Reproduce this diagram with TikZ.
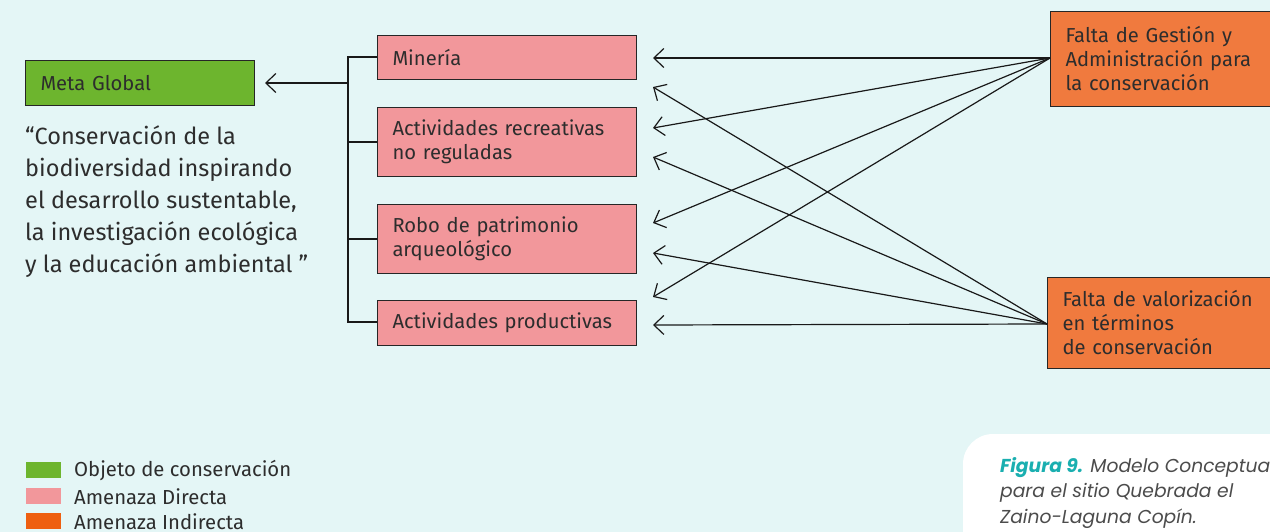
\documentclass[tikz,border=0pt]{standalone}
\usepackage{fontspec}
\setmainfont{Fira Sans}
\newfontfamily\capfont{Poppins}
\usetikzlibrary{arrows.meta}
\definecolor{bgc}{RGB}{228,246,246}
\definecolor{gfill}{RGB}{109,181,46}
\definecolor{pfill}{RGB}{242,151,155}
\definecolor{ofill}{RGB}{240,122,62}
\definecolor{olegend}{RGB}{238,95,16}
\definecolor{txt}{RGB}{45,45,45}
\definecolor{teal9}{RGB}{26,175,176}
\tikzset{
  boxbase/.style={draw=black!85, line width=1pt, anchor=north west, align=left, inner xsep=15pt, inner ysep=0pt, text=txt, font=\fontsize{20.2}{24}\selectfont},
  gbox/.style={boxbase, fill=gfill},
  pbox/.style={boxbase, fill=pfill},
  obox/.style={boxbase, fill=ofill},
  conn/.style={line width=1.2pt, black!90},
  arr/.style={conn, -{Straight Barb[length=10pt,width=19pt,line width=1.2pt]}},
  legsq/.style={anchor=north west, minimum width=35pt, minimum height=16pt, inner sep=0pt},
  legtxt/.style={anchor=west, text=txt, font=\fontsize{20.3}{22}\selectfont, inner sep=0pt},
}
\begin{document}
\begin{tikzpicture}[x=1pt,y=-1pt]
\useasboundingbox (0,0) rectangle (1270,532);
\clip (0,0) rectangle (1270,532);
\fill[bgc] (0,0) rectangle (1270,532);
\fill[white, rounded corners=30pt] (963,434) rectangle (1320,600);

% goal
\node[gbox, minimum width=229pt, minimum height=45pt, text width=199pt] (meta) at (25,60) {Meta Global};
\node[anchor=north west, align=left, inner sep=0pt, text=txt, font=\fontsize{23.5}{32}\selectfont] (quote) at (25,125)
{“Conservación de la\\biodiversidad inspirando\\el desarrollo sustentable,\\la investigación ecológica\\y la educación ambiental ”};

% direct threats
\node[pbox, minimum width=259pt, minimum height=44pt, text width=229pt] (min) at (377,35) {Minería};
\node[pbox, minimum width=259pt, minimum height=69pt, text width=229pt] (rec) at (377,107) {Actividades recreativas\\no reguladas};
\node[pbox, minimum width=259pt, minimum height=69pt, text width=229pt] (rob) at (377,204) {Robo de patrimonio\\arqueológico};
\node[pbox, minimum width=259pt, minimum height=45pt, text width=229pt] (pro) at (377,300) {Actividades productivas};

% indirect threats
\node[obox, minimum width=260pt, minimum height=95pt, text width=230pt] (ges) at (1050,11) {Falta de Gestión y\\Administración para\\la conservación};
\node[obox, minimum width=260pt, minimum height=91pt, text width=230pt, inner xsep=13pt] (val) at (1047,277) {Falta de valorización\\en términos\\de conservación};

% bracket
\coordinate (bt) at (348,57);
\coordinate (bb) at (348,322);
\coordinate (bm) at (348,83);
\draw[conn] (min.west |- bt) -- (bt) -- (bb) -- (pro.west |- bb);
\draw[conn] (348,142) -- (rec.west |- 0,142);
\draw[conn] (348,239) -- (rob.west |- 0,239);
\draw[arr] (bm) -- (265,83) coordinate (mt);

% arrow tips
\coordinate (t1) at (653,58);
\coordinate (t2) at (653,87);
\coordinate (t3) at (653,128);
\coordinate (t4) at (653,157);
\coordinate (t5) at (653,223);
\coordinate (t6) at (653,253);
\coordinate (t7) at (653,297);
\coordinate (t8) at (653,325);
\coordinate (gs) at (1050,58);
\coordinate (vs) at (1047,324);
\draw[arr] (gs) -- (t1);
\draw[arr] (gs) -- (t3);
\draw[arr] (gs) -- (t5);
\draw[arr] (gs) -- (t7);
\draw[arr] (vs) -- (t2);
\draw[arr] (vs) -- (t4);
\draw[arr] (vs) -- (t6);
\draw[arr] (vs) -- (t8);

% legend
\node[legsq, fill=gfill] (l1) at (26,462) {};
\node[legsq, fill=pfill] (l2) at (26,488) {};
\node[legsq, fill=olegend] (l3) at (26,513) {};
\node[legtxt] at (74,471) {Objeto de conservación};
\node[legtxt] at (74,497) {Amenaza Directa};
\node[legtxt] at (74,522) {Amenaza Indirecta};

% caption
\node[anchor=north west, align=left, inner sep=0pt, text=txt!85, font=\capfont\itshape\fontsize{18.7}{25.5}\selectfont] (cap) at (1000,457)
{{\bfseries\color{teal9}Figura 9.} Modelo Conceptual\\para el sitio Quebrada el\\Zaino-Laguna Copín.};
\end{tikzpicture}
\end{document}
